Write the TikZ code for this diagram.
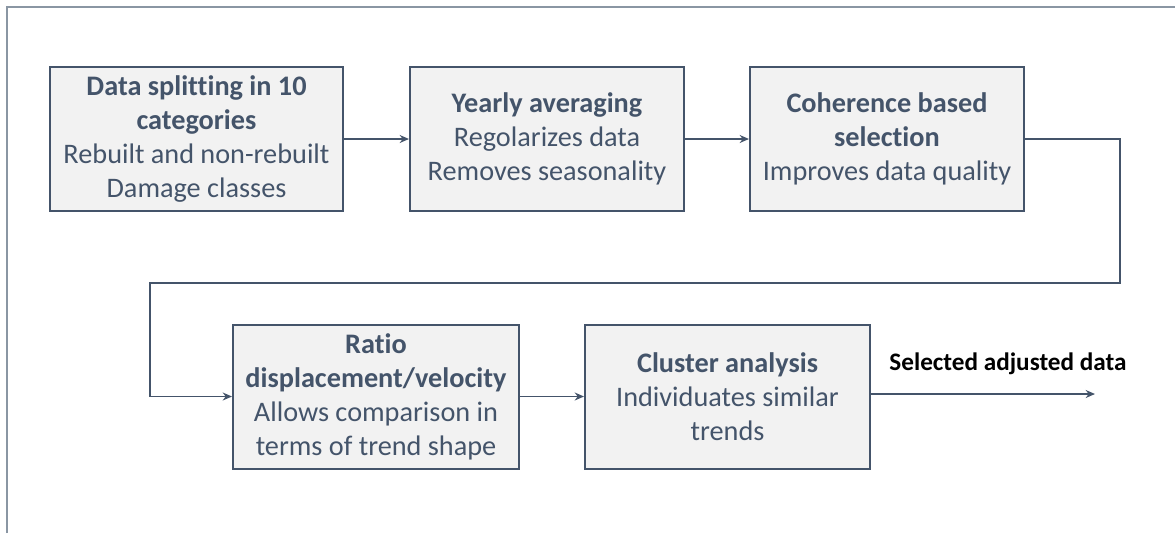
\documentclass[tikz,border=0pt]{standalone}
\usepackage{fontspec}
\setmainfont{Carlito}[Ligatures=NoCommon]
\usetikzlibrary{arrows.meta}

\definecolor{slate}{HTML}{44546A}
\definecolor{boxfill}{HTML}{F2F2F2}
\definecolor{framegray}{HTML}{8A96A3}

\tikzset{
  stepbox/.style={draw=slate, fill=boxfill, line width=1.5pt, text=slate,
    align=center, inner sep=0pt, minimum height=108pt,
    font=\fontsize{21.2}{25.5}\selectfont},
  flow/.style={draw=slate, line width=1.4pt, ->},
}

\begin{document}
\begin{tikzpicture}[x=0.75pt,y=-0.75pt,>={Stealth[length=7pt,width=6pt]}]
  \useasboundingbox (0,0) rectangle (1175,533);
  \draw[framegray, line width=0.8pt] (7,533) -- (7,7) -- (1175,7);

  % first row
  \node[stepbox, minimum width=219.75pt] (split) at (196.5,139)
    {\textbf{Data splitting in 10}\\\textbf{categories}\\Rebuilt and non-rebuilt\\Damage classes};
  \node[stepbox, minimum width=205.5pt] (yearly) at (547,139)
    {\textbf{Yearly averaging}\\Regolarizes data\\Removes seasonality};
  \node[stepbox, minimum width=205.5pt] (select) at (887,139)
    {\textbf{Coherence based}\\\textbf{selection}\\Improves data quality};

  % second row
  \node[stepbox, minimum width=214.5pt] (ratio) at (376,396.5)
    {\textbf{Ratio}\\\textbf{displacement/velocity}\\Allows comparison in\\terms of trend shape};
  \node[stepbox, minimum width=213.75pt] (cluster) at (727.5,396.5)
    {\textbf{Cluster analysis}\\Individuates similar\\trends};

  \coordinate (turn) at (150,283);
  \coordinate (end) at (1095,394);

  \draw[flow] (split) -- (yearly);
  \draw[flow] (yearly) -- (select);
  \draw[flow] (select.east) -- ++(95,0) |- (turn) |- (ratio.west);
  \draw[flow] (ratio) -- (cluster);
  \draw[flow] (cluster.east |- end) -- (end);

  \node[font=\fontsize{18.9}{22}\selectfont\bfseries] (result) at (1008,364) {Selected adjusted data};
\end{tikzpicture}
\end{document}
